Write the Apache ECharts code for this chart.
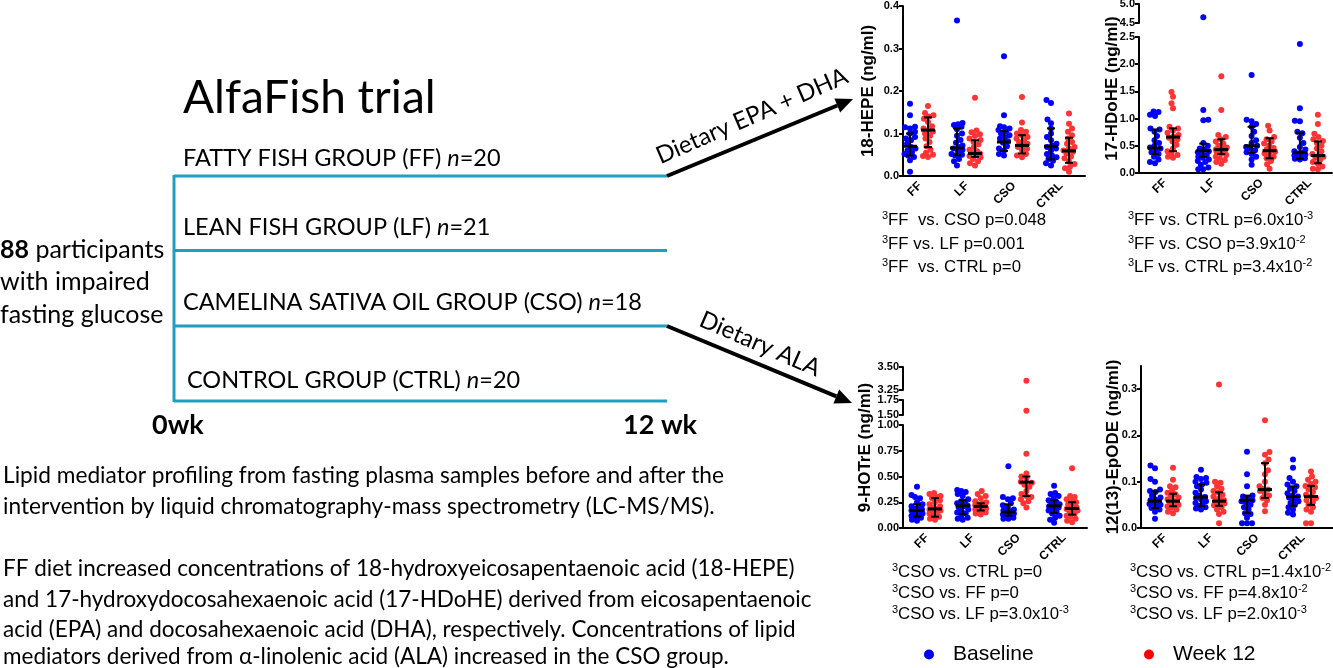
<!DOCTYPE html>
<html><head><meta charset="utf-8">
<script src="https://cdn.jsdelivr.net/npm/echarts@6/dist/echarts.min.js"></script>
<style>html,body{margin:0;padding:0;background:#fff}#c{width:1333px;height:668px}</style>
</head><body><div id="c"></div>
<script>
// ---------------- DATA ----------------
const groups = ['FF', 'LF', 'CSO', 'CTRL'];

// 18-HEPE (ng/ml): individual values per group [FF, LF, CSO, CTRL]
const hepeBaseline = [
  [0.17,0.143,0.116,0.115,0.112,0.104,0.10,0.092,0.088,0.084,0.076,0.068,0.065,0.06,0.056,0.052,0.048,0.045,0.037,0.01],
  [0.366,0.125,0.122,0.12,0.116,0.11,0.1,0.095,0.085,0.078,0.072,0.068,0.065,0.062,0.058,0.052,0.05,0.048,0.04,0.035,0.025],
  [0.282,0.143,0.117,0.115,0.112,0.108,0.104,0.1,0.096,0.092,0.088,0.082,0.078,0.07,0.065,0.06,0.052,0.048],
  [0.179,0.172,0.133,0.124,0.112,0.1,0.092,0.084,0.076,0.072,0.068,0.065,0.06,0.052,0.048,0.044,0.04,0.036,0.03,0.025]
];
const hepeWeek12 = [
  [0.165,0.148,0.143,0.14,0.135,0.127,0.117,0.112,0.108,0.105,0.1,0.095,0.088,0.08,0.07,0.062,0.055,0.05,0.047,0.045],
  [0.184,0.107,0.103,0.098,0.094,0.088,0.085,0.08,0.075,0.068,0.062,0.058,0.055,0.053,0.05,0.047,0.044,0.04,0.035,0.03,0.025],
  [0.186,0.126,0.108,0.104,0.1,0.096,0.092,0.088,0.084,0.08,0.076,0.072,0.068,0.064,0.06,0.052,0.048,0.044],
  [0.147,0.123,0.112,0.104,0.096,0.088,0.08,0.076,0.068,0.065,0.06,0.057,0.053,0.046,0.042,0.035,0.028,0.022,0.018,0.01]
];
// [median, Q1, Q3] per group
const hepeBaseIQR = [[0.07,0.048,0.1],[0.066,0.049,0.112],[0.08,0.059,0.106],[0.07,0.039,0.112]];
const hepeWeekIQR = [[0.108,0.068,0.138],[0.053,0.045,0.084],[0.072,0.053,0.096],[0.059,0.031,0.09]];
const hepeTicks = [0, 0.1, 0.2, 0.3, 0.4];

// 17-HDoHE (ng/ml)
const hdoheBaseline = [
  [1.13,1.12,1.07,1.05,0.82,0.8,0.76,0.68,0.6,0.55,0.5,0.47,0.45,0.42,0.38,0.35,0.3,0.25,0.2,0.18],
  [4.65,1.16,0.98,0.97,0.55,0.5,0.45,0.43,0.4,0.38,0.36,0.33,0.3,0.28,0.25,0.22,0.2,0.15,0.1,0.07,0.07],
  [1.8,0.98,0.95,0.9,0.85,0.76,0.68,0.6,0.55,0.5,0.48,0.45,0.42,0.38,0.35,0.3,0.25,0.15],
  [2.37,1.19,0.96,0.95,0.76,0.73,0.65,0.55,0.48,0.43,0.4,0.37,0.36,0.34,0.32,0.3,0.28,0.27,0.26,0.25]
];
const hdoheWeek12 = [
  [1.49,1.4,1.28,1.19,0.85,0.82,0.78,0.74,0.7,0.67,0.65,0.62,0.58,0.52,0.45,0.4,0.36,0.33,0.3,0.28],
  [1.78,1.16,0.7,0.66,0.62,0.58,0.54,0.5,0.47,0.45,0.43,0.42,0.4,0.38,0.36,0.33,0.3,0.27,0.24,0.2,0.17],
  [0.87,0.78,0.66,0.62,0.58,0.54,0.5,0.46,0.43,0.41,0.39,0.36,0.33,0.3,0.27,0.22,0.16,0.08],
  [1.07,0.9,0.72,0.66,0.62,0.59,0.55,0.5,0.45,0.4,0.35,0.32,0.3,0.28,0.25,0.2,0.17,0.12,0.08,0.07]
];
const hdoheBaseIQR = [[0.46,0.35,0.8],[0.41,0.3,0.54],[0.5,0.37,0.85],[0.38,0.26,0.73]];
const hdoheWeekIQR = [[0.66,0.4,0.82],[0.43,0.35,0.62],[0.41,0.27,0.64],[0.32,0.18,0.58]];
const hdoheTicksLow = [0, 0.5, 1.0, 1.5, 2.0, 2.5];
const hdoheTicksHigh = [4.5, 5.0];

// 9-HOTrE (ng/ml)
const hotreBaseline = [
  [0.4,0.32,0.3,0.29,0.25,0.23,0.21,0.2,0.19,0.18,0.17,0.16,0.15,0.14,0.13,0.12,0.11,0.1,0.08,0.07],
  [0.37,0.36,0.35,0.33,0.31,0.28,0.26,0.25,0.24,0.22,0.215,0.21,0.2,0.18,0.16,0.15,0.14,0.12,0.1,0.09,0.08],
  [0.6,0.3,0.29,0.28,0.24,0.22,0.2,0.18,0.17,0.16,0.15,0.14,0.13,0.12,0.11,0.1,0.09,0.09],
  [0.41,0.34,0.33,0.31,0.29,0.27,0.25,0.24,0.23,0.22,0.21,0.2,0.19,0.17,0.155,0.14,0.12,0.1,0.08,0.05]
];
const hotreWeek12 = [
  [0.34,0.33,0.31,0.3,0.29,0.27,0.25,0.23,0.21,0.2,0.19,0.18,0.17,0.16,0.15,0.14,0.12,0.11,0.09,0.08],
  [0.36,0.33,0.31,0.29,0.26,0.25,0.24,0.23,0.22,0.21,0.21,0.2,0.2,0.19,0.19,0.18,0.17,0.16,0.15,0.14,0.13],
  [3.35,1.57,0.72,0.53,0.5,0.48,0.45,0.44,0.42,0.4,0.36,0.33,0.31,0.3,0.28,0.26,0.24,0.2],
  [0.58,0.31,0.3,0.28,0.26,0.25,0.23,0.21,0.2,0.19,0.185,0.18,0.17,0.16,0.14,0.12,0.11,0.09,0.07,0.055]
];
const hotreBaseIQR = [[0.17,0.11,0.23],[0.215,0.135,0.27],[0.155,0.12,0.23],[0.215,0.145,0.27]];
const hotreWeekIQR = [[0.185,0.11,0.29],[0.21,0.17,0.24],[0.445,0.31,0.5],[0.19,0.13,0.25]];
const hotreTicksLow = [0, 0.25, 0.5, 0.75, 1.0];
const hotreTicksMid = [1.5, 1.75];
const hotreTicksHigh = [3.25, 3.5];

// 12(13)-EpODE (ng/ml)
const epodeBaseline = [
  [0.135,0.129,0.106,0.1,0.083,0.08,0.078,0.07,0.066,0.062,0.06,0.058,0.055,0.052,0.05,0.047,0.043,0.04,0.035,0.02],
  [0.126,0.11,0.108,0.106,0.1,0.098,0.094,0.09,0.083,0.076,0.07,0.067,0.065,0.062,0.058,0.054,0.05,0.048,0.045,0.042,0.04],
  [0.165,0.116,0.09,0.07,0.068,0.065,0.06,0.058,0.055,0.05,0.045,0.04,0.032,0.03,0.022,0.01,0.01,0.01],
  [0.148,0.13,0.108,0.1,0.094,0.09,0.085,0.08,0.075,0.07,0.068,0.066,0.062,0.058,0.054,0.05,0.045,0.04,0.033,0.029]
];
const epodeWeek12 = [
  [0.13,0.104,0.09,0.088,0.08,0.076,0.073,0.07,0.066,0.062,0.06,0.058,0.055,0.052,0.05,0.047,0.044,0.04,0.035,0.032],
  [0.31,0.1,0.098,0.09,0.085,0.08,0.077,0.072,0.068,0.064,0.06,0.058,0.056,0.053,0.05,0.049,0.045,0.04,0.035,0.03,0.01],
  [0.233,0.164,0.158,0.148,0.14,0.125,0.116,0.1,0.09,0.085,0.083,0.08,0.075,0.07,0.065,0.06,0.05,0.036],
  [0.122,0.111,0.104,0.1,0.095,0.091,0.088,0.083,0.078,0.072,0.068,0.065,0.06,0.056,0.05,0.045,0.04,0.035,0.01,0.01]
];
const epodeBaseIQR = [[0.058,0.043,0.079],[0.067,0.047,0.094],[0.06,0.032,0.07],[0.068,0.048,0.09]];
const epodeWeekIQR = [[0.058,0.047,0.074],[0.058,0.048,0.077],[0.083,0.065,0.14],[0.068,0.05,0.091]];
const epodeTicks = [0, 0.1, 0.2, 0.3];

// texts
const statsHepe  = ['{s|3}{n|FF  vs. CSO p=0.048}', '{s|3}{n|FF vs. LF p=0.001}', '{s|3}{n|FF  vs. CTRL p=0}'];
const statsHdohe = ['{s|3}{n|FF vs. CTRL p=6.0x10}{s|-3}', '{s|3}{n|FF vs. CSO p=3.9x10}{s|-2}', '{s|3}{n|LF vs. CTRL p=3.4x10}{s|-2}'];
const statsHotre = ['{s|3}{n|CSO vs. CTRL p=0}', '{s|3}{n|CSO vs. FF p=0}', '{s|3}{n|CSO vs. LF p=3.0x10}{s|-3}'];
const statsEpode = ['{s|3}{n|CSO vs. CTRL p=1.4x10}{s|-2}', '{s|3}{n|CSO vs. FF p=4.8x10}{s|-2}', '{s|3}{n|CSO vs. LF p=2.0x10}{s|-3}'];
const paragraph1 = ['Lipid mediator profiling from fasting plasma samples before and after the',
  'intervention by liquid chromatography-mass spectrometry (LC-MS/MS).'];
const paragraph2 = ['FF diet increased concentrations of 18-hydroxyeicosapentaenoic acid (18-HEPE)',
  'and 17-hydroxydocosahexaenoic acid (17-HDoHE) derived from eicosapentaenoic',
  'acid (EPA) and docosahexaenoic acid (DHA), respectively. Concentrations of lipid',
  'mediators derived from \u03b1-linolenic acid (ALA) increased in the CSO group.'];
const groupLabels = ['{a|FATTY FISH GROUP (FF) }{i|n}{a|=20}', '{a|LEAN FISH GROUP (LF) }{i|n}{a|=21}',
  '{a|CAMELINA SATIVA OIL GROUP (CSO) }{i|n}{a|=18}', '{a|CONTROL GROUP (CTRL) }{i|n}{a|=20}'];

// ---------------- LAYOUT ----------------
const BLUE = '#0000ff', RED = '#ff3434';
const AR = 'Liberation Sans';
const CAL = 'Lato';

const plots = [
  { title: '18-HEPE (ng/ml)', left: 903, width: 182, c0: 16, pitch: 47, nameGap: 26,
    base: hepeBaseline, week: hepeWeek12, baseIQR: hepeBaseIQR, weekIQR: hepeWeekIQR,
    segs: [{ min: 0, max: 0.4, top: 6, bottom: 176, ticks: hepeTicks, dec: 1 }] },
  { title: '17-HDoHE (ng/ml)', left: 1139, width: 193, c0: 25, pitch: 48.3, nameGap: 18,
    base: hdoheBaseline, week: hdoheWeek12, baseIQR: hdoheBaseIQR, weekIQR: hdoheWeekIQR,
    segs: [{ min: 4.5, max: 5.0, top: 4, bottom: 23, ticks: hdoheTicksHigh, dec: 1 },
           { min: 0, max: 2.5, top: 37, bottom: 173, ticks: hdoheTicksLow, dec: 1 }] },
  { title: '9-HOTrE (ng/ml)', left: 903, width: 184, c0: 23, pitch: 45.7, nameGap: 29,
    base: hotreBaseline, week: hotreWeek12, baseIQR: hotreBaseIQR, weekIQR: hotreWeekIQR,
    segs: [{ min: 3.25, max: 3.5, top: 367, bottom: 390, ticks: hotreTicksHigh, dec: 2 },
           { min: 1.5, max: 1.75, top: 400, bottom: 415, ticks: hotreTicksMid, dec: 2 },
           { min: 0, max: 1.0, top: 425, bottom: 528, ticks: hotreTicksLow, dec: 2 }] },
  { title: '12(13)-EpODE (ng/ml)', left: 1141, width: 192, c0: 23, pitch: 46, nameGap: 19,
    base: epodeBaseline, week: epodeWeek12, baseIQR: epodeBaseIQR, weekIQR: epodeWeekIQR,
    segs: [{ min: 0, max: 0.35, top: 366, bottom: 528, ticks: epodeTicks, dec: 1 }] }
];

function segOf(p, v) { return p.segs.findIndex(s => v >= s.min && v <= s.max); }
function toPx(p, v) {
  const s = p.segs[segOf(p, v)];
  return s.bottom - (v - s.min) / (s.max - s.min) * (s.bottom - s.top);
}
// deterministic beeswarm offsets (pixels)
function swarm(p, vals, d, maxOff) {
  const ys = vals.map(v => toPx(p, v));
  const order = ys.map((y, i) => i).sort((a, b) => ys[b] - ys[a]);
  const placed = [], off = new Array(vals.length).fill(0);
  let flip = 1;
  for (const i of order) {
    const y = ys[i];
    let chosen = null, bestX = 0, bestScore = -1;
    for (let k = 0; k <= maxOff * 2 && chosen === null; k++) {
      const mag = k * 0.5;
      const cands = mag === 0 ? [0] : [flip * mag, -flip * mag];
      for (const x of cands) {
        let minD = Infinity;
        for (const q of placed) minD = Math.min(minD, Math.hypot(q.x - x, q.y - y));
        if (minD >= d) { chosen = x; break; }
        if (minD > bestScore) { bestScore = minD; bestX = x; }
      }
    }
    const x = chosen === null ? bestX : chosen;
    off[i] = x;
    placed.push({ x, y });
    flip = -flip;
  }
  return off;
}

const grid = [], xAxis = [], yAxis = [], series = [];
const lbl = { fontFamily: AR, fontWeight: 'bold', color: '#000' };
const mkGrid = (left, top, width, height) => ({ left, top, width, height, containLabel: false, outerBoundsMode: 'none' });
const labelAnchors = [];

plots.forEach(p => {
  // frame grid carrying the axis name
  const top = p.segs[0].top, bot = p.segs[p.segs.length - 1].bottom;
  let gi = grid.length;
  grid.push(mkGrid(p.left, top, p.width, bot - top));
  xAxis.push({ gridIndex: gi, type: 'value', show: false, min: 0, max: 1 });
  yAxis.push({ gridIndex: gi, type: 'value', min: 0, max: 1, name: p.title, nameLocation: 'middle',
    nameGap: p.nameGap, nameTextStyle: { fontFamily: AR, fontWeight: 'bold', fontSize: 17, color: '#000' },
    axisLine: { show: false }, axisTick: { show: false }, axisLabel: { show: false }, splitLine: { show: false } });

  const baseOff = p.base.map(vals => swarm(p, vals, 5, 5.5));
  const weekOff = p.week.map(vals => swarm(p, vals, 5, 5.5));
  const centers = groups.map((g, k) => p.c0 + k * p.pitch);

  p.segs.forEach((s, si) => {
    const last = si === p.segs.length - 1;
    gi = grid.length;
    grid.push(mkGrid(p.left, s.top, p.width, s.bottom - s.top));
    xAxis.push({ gridIndex: gi, type: 'value', min: 0, max: p.width, show: last,
      axisLine: { show: true, onZero: false, lineStyle: { color: '#000', width: 2 } },
      axisTick: { show: false }, splitLine: { show: false }, axisLabel: { show: false } });
    yAxis.push({ gridIndex: gi, type: 'value', min: s.min, max: s.max,
      axisLine: { show: true, onZero: false, lineStyle: { color: '#000', width: 2 } },
      axisTick: { show: true, length: 4, customValues: s.ticks, lineStyle: { color: '#000', width: 2 } },
      axisLabel: Object.assign({ customValues: s.ticks, fontSize: 11, margin: 4,
        formatter: v => Number(v).toFixed(s.dec) }, lbl),
      splitLine: { show: false } });
    if (last) groups.forEach((g, k) => labelAnchors.push({ gi, name: g, x: centers[k], y: s.min }));

    const mk = (sets, offs, shift) => {
      const out = [];
      sets.forEach((vals, g) => vals.forEach((v, i) => {
        if (segOf(p, v) === si) out.push([centers[g] + shift + offs[g][i], v]);
      }));
      return out;
    };
    const common = { type: 'scatter', xAxisIndex: gi, yAxisIndex: gi, symbolSize: 6, silent: true, clip: false };
    series.push(Object.assign({ name: 'Baseline', data: mk(p.base, baseOff, -9),
      itemStyle: { color: BLUE, opacity: 1 }, z: 2 }, common));
    series.push(Object.assign({ name: 'Week 12', data: mk(p.week, weekOff, 9),
      itemStyle: { color: RED, opacity: 1 }, z: 2 }, common));

    if (last) {
      const ebData = [];
      p.baseIQR.forEach((st, g) => ebData.push([centers[g] - 9, st[0], st[1], st[2]]));
      p.weekIQR.forEach((st, g) => ebData.push([centers[g] + 9, st[0], st[1], st[2]]));
      series.push({ type: 'custom', xAxisIndex: gi, yAxisIndex: gi, silent: true, z: 5, data: ebData,
        renderItem: (params, api) => {
          const x = api.value(0);
          const pm = api.coord([x, api.value(1)]);
          const p1 = api.coord([x, api.value(2)]);
          const p3 = api.coord([x, api.value(3)]);
          const st = { stroke: '#000', lineWidth: 2 };
          return { type: 'group', children: [
            { type: 'line', shape: { x1: pm[0], y1: p3[1], x2: pm[0], y2: p1[1] }, style: st },
            { type: 'line', shape: { x1: pm[0] - 4, y1: p3[1], x2: pm[0] + 4, y2: p3[1] }, style: st },
            { type: 'line', shape: { x1: pm[0] - 4, y1: p1[1], x2: pm[0] + 4, y2: p1[1] }, style: st },
            { type: 'line', shape: { x1: pm[0] - 7, y1: pm[1], x2: pm[0] + 7, y2: pm[1] }, style: { stroke: '#000', lineWidth: 3 } }
          ] };
        } });
    }
  });
});

// ---------------- GRAPHICS (diagram + texts) ----------------
const TEAL = '#1f9fbf';
const graphic = [];
const txt = (x, y, text, style, extra) => graphic.push(Object.assign({ type: 'text', x, y, silent: true,
  style: Object.assign({ text, align: 'left', verticalAlign: 'middle', fill: '#000' }, style) }, extra || {}));

txt(183, 98, 'AlfaFish trial', { fontFamily: CAL, fontSize: 46 });
const gy = [158, 227, 302, 380];
groupLabels.forEach((t, i) => txt(i === 3 ? 187 : 183, gy[i], t, { rich: {
  a: { fontFamily: CAL, fontSize: 23.5, fill: '#000' }, i: { fontFamily: CAL, fontSize: 23.5, fontStyle: 'italic', fill: '#000' } } }));
txt(0, 250, '{b|88}{a| participants}', { rich: { b: { fontFamily: CAL, fontSize: 25, fontWeight: 'bold' }, a: { fontFamily: CAL, fontSize: 25 } } });
txt(0, 282, 'with impaired', { fontFamily: CAL, fontSize: 25 });
txt(0, 315, 'fasting glucose', { fontFamily: CAL, fontSize: 25 });
txt(152, 425, '0wk', { fontFamily: CAL, fontSize: 27, fontWeight: 'bold' });
txt(623, 425, '12 wk', { fontFamily: CAL, fontSize: 27, fontWeight: 'bold' });

const lineY = [176, 250.5, 326, 401];
graphic.push({ type: 'line', silent: true, shape: { x1: 174, y1: 175, x2: 174, y2: 402 }, style: { stroke: TEAL, lineWidth: 3 } });
lineY.forEach(y => graphic.push({ type: 'line', silent: true, shape: { x1: 174, y1: y, x2: 667, y2: y }, style: { stroke: TEAL, lineWidth: 3 } }));

function arrow(x1, y1, x2, y2) {
  const dx = x2 - x1, dy = y2 - y1, L = Math.hypot(dx, dy), ux = dx / L, uy = dy / L;
  const bx = x2 - ux * 17, by = y2 - uy * 17, px = -uy, py = ux;
  graphic.push({ type: 'line', silent: true, shape: { x1, y1, x2: bx, y2: by }, style: { stroke: '#000', lineWidth: 4 } });
  graphic.push({ type: 'polygon', silent: true, shape: { points: [[x2, y2], [bx + px * 7.5, by + py * 7.5], [bx - px * 7.5, by - py * 7.5]] }, style: { fill: '#000' } });
}
arrow(667, 176, 853, 99);
arrow(667, 326, 852, 403);
txt(752, 116, 'Dietary EPA + DHA', { fontFamily: CAL, fontSize: 24, align: 'center' }, { rotation: 0.41 });
txt(760, 344, 'Dietary ALA', { fontFamily: CAL, fontSize: 24, align: 'center' }, { rotation: -0.41 });

const p1y = [476, 507], p2y = [569, 600, 630, 657];
paragraph1.forEach((t, i) => txt(3, p1y[i], t, { fontFamily: CAL, fontSize: 22.7 }));
paragraph2.forEach((t, i) => txt(3, p2y[i], t, { fontFamily: CAL, fontSize: 22.5 }));

const rich = { n: { fontFamily: AR, fontSize: 16.8, fill: '#000', lineHeight: 20 },
               s: { fontFamily: AR, fontSize: 11, fill: '#000', lineHeight: 13, verticalAlign: 'top' } };
const annY1 = [220, 244, 267], annY2 = [572, 593, 614];
statsHepe.forEach((t, i) => txt(882, annY1[i], t, { rich }));
statsHdohe.forEach((t, i) => txt(1128, annY1[i], t, { rich }));
statsHotre.forEach((t, i) => txt(892, annY2[i], t, { rich }));
statsEpode.forEach((t, i) => txt(1130, annY2[i], t, { rich }));

const legendCommon = { orient: 'horizontal', top: 639, itemWidth: 28, itemHeight: 10, icon: 'circle',
  selectedMode: false, textStyle: { fontFamily: AR, fontSize: 21, color: '#000', padding: [0, 0, 0, 5] } };

const chart = echarts.init(document.getElementById('c'), null, { renderer: 'canvas' });
chart.setOption({
  animation: false,
  backgroundColor: '#fff',
  grid, xAxis, yAxis, series,
  legend: [
    Object.assign({ left: 919, data: [{ name: 'Baseline', itemStyle: { color: '#0000ff' } }] }, legendCommon),
    Object.assign({ left: 1139, data: [{ name: 'Week 12', itemStyle: { color: '#ff0000' } }] }, legendCommon)
  ]
});

// group tick labels, anchored where the x scale puts each group centre
labelAnchors.forEach(a => {
  const pt = chart.convertToPixel({ xAxisIndex: a.gi, yAxisIndex: a.gi }, [a.x, a.y]);
  graphic.push({ type: 'text', silent: true, x: pt[0] + 1, y: pt[1] + 8, rotation: Math.PI / 4,
    style: { text: a.name, align: 'right', verticalAlign: 'middle', fill: '#000',
      fontFamily: AR, fontWeight: 'bold', fontSize: 12 } });
});
chart.setOption({ graphic });
</script></body></html>
